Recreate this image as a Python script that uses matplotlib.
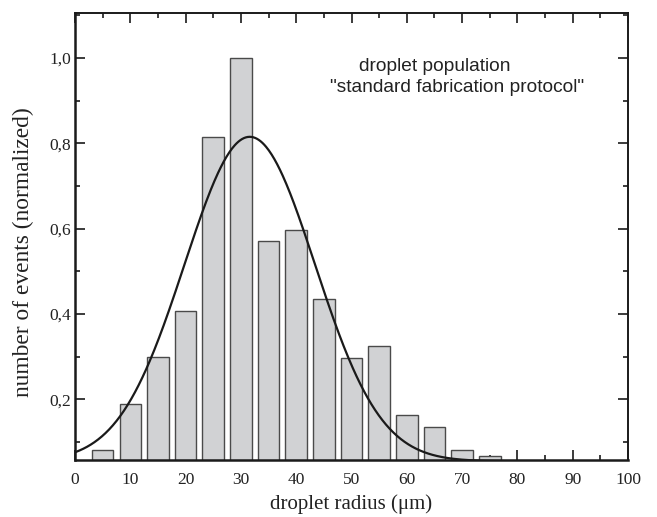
import numpy as np
import matplotlib
matplotlib.use("Agg")
import matplotlib.pyplot as plt
from matplotlib.ticker import MultipleLocator, FuncFormatter

# Histogram data (bin centres in µm, normalized counts)
radius = [5, 10, 15, 20, 25, 30, 35, 40, 45, 50, 55, 60, 65, 70, 75]
counts = [0.081, 0.190, 0.299, 0.407, 0.814, 1.000, 0.571, 0.597,
          0.434, 0.298, 0.326, 0.163, 0.135, 0.081, 0.067]

# Gaussian fit parameters
fit_y0 = 0.055
fit_A = 0.76
fit_xc = 31.6
fit_sigma = 11.8

x_ticks = [0, 10, 20, 30, 40, 50, 60, 70, 80, 90, 100]
y_ticks = [0.2, 0.4, 0.6, 0.8, 1.0]

fig = plt.figure(figsize=(6.57, 5.17), dpi=100)
ax = fig.add_axes([75/657, 1-460/517, (628-75)/657, (460-13)/517])

ax.bar(radius, counts, width=3.9, color="#d1d2d4", edgecolor="#4a4a4a",
       linewidth=1.0, zorder=2)

xf = np.linspace(0, 100, 600)
yf = fit_y0 + fit_A * np.exp(-(xf - fit_xc) ** 2 / (2 * fit_sigma ** 2))
ax.plot(xf, yf, color="#1a1a1a", linewidth=1.6, zorder=3)

ax.set_xlim(0, 100)
ax.set_ylim(0.058, 1.105)
ax.set_xticks(x_ticks)
ax.set_yticks(y_ticks)
ax.xaxis.set_minor_locator(MultipleLocator(5))
ax.yaxis.set_minor_locator(MultipleLocator(0.1))
ax.yaxis.set_major_formatter(FuncFormatter(lambda v, p: f"{v:.1f}".replace(".", ",")))

serif = "Liberation Serif"
ax.tick_params(which="both", direction="in", top=True, right=True,
               color="#1a1a1a", width=1.2)
ax.tick_params(which="major", length=7, labelsize=12.5)
ax.tick_params(axis="x", which="major", pad=9)
ax.tick_params(axis="y", which="major", pad=3)
ax.tick_params(which="minor", length=3.5)
for lab in ax.get_xticklabels() + ax.get_yticklabels():
    lab.set_fontfamily(serif)
    lab.set_color("#222222")

for s in ax.spines.values():
    s.set_linewidth(1.4)
    s.set_color("#1a1a1a")
ax.spines["left"].set_linewidth(1.8)
ax.spines["bottom"].set_linewidth(1.8)

ax.set_xlabel("droplet radius (\u03bcm)", fontfamily=serif, fontsize=15,
              color="#222222", labelpad=4)
ax.set_ylabel("number of events (normalized)", fontfamily=serif, fontsize=16.8,
              color="#222222")
ax.yaxis.set_label_coords(-0.074, 0.465)

ax.text(65.1, 0.979, "droplet population", fontfamily="Liberation Sans",
        fontsize=13.8, ha="center", va="center", color="#222222")
ax.text(69.1, 0.930, "\"standard fabrication protocol\"", fontfamily="Liberation Sans",
        fontsize=13.8, ha="center", va="center", color="#222222")

fig.savefig("out.png", dpi=100)
